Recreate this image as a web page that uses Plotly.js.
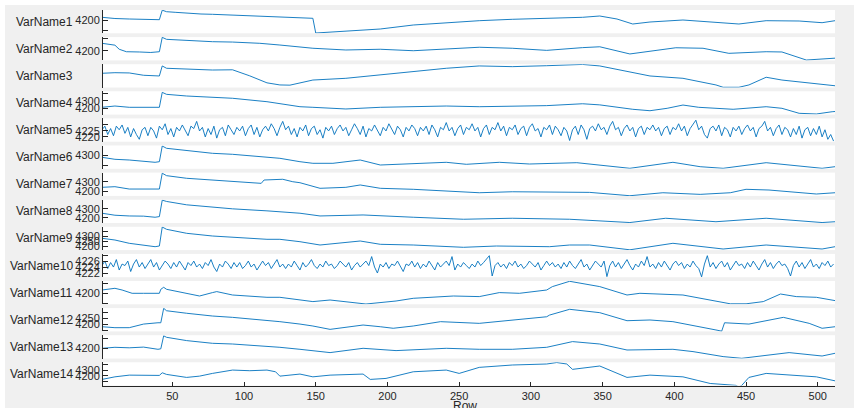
<!DOCTYPE html>
<html>
<head>
<meta charset="utf-8">
<script src="https://cdn.plot.ly/plotly-3.0.1.min.js"></script>
<style>
  html, body { margin: 0; padding: 0; background: #ffffff; width: 854px; height: 408px; overflow: hidden; }
  #chart { position: absolute; left: 5px; top: 5px; width: 849px; height: 403px; }
</style>
</head>
<body>
<div id="chart"></div>
<script>
// ---------------- data ----------------
const varNames = ['VarName1','VarName2','VarName3','VarName4','VarName5','VarName6','VarName7',
                  'VarName8','VarName9','VarName10','VarName11','VarName12','VarName13','VarName14'];

const rows1 = [1,10,20,30,38,41,43,46,52,60,70,78,92,104,116,125,139,146,148,150,160,171,195,218,241,264,287,311,336,348,360,371,383,406,430,445,464,487,503,512];
const vals1 = [4227,4215,4210,4207,4200,4203,4298,4283,4277,4267,4260,4257,4250,4240,4233,4233,4220,4217,4217,4070,4080,4090,4110,4150,4173,4193,4207,4217,4227,4240,4210,4160,4180,4200,4173,4160,4193,4190,4173,4193];

const rows2 = [1,6,10,13,18,27,35,41,43,46,60,78,92,111,125,139,148,171,195,218,241,264,287,311,336,348,369,401,420,438,464,475,492,500,510,512];
const vals2 = [4260,4254,4245,4212,4192,4190,4186,4192,4308,4292,4281,4273,4270,4260,4246,4233,4220,4206,4212,4200,4216,4228,4220,4203,4225,4232,4174,4224,4220,4179,4192,4190,4125,4130,4136,4140];

const rows3 = [1,10,20,30,41,43,46,60,78,92,104,116,125,132,139,148,171,195,218,241,264,287,311,336,348,367,383,406,429,434,445,452,464,475,499,510,512];
const vals3 = [4222,4227,4225,4205,4199,4285,4265,4256,4250,4252,4200,4140,4122,4120,4140,4164,4179,4207,4236,4265,4285,4279,4287,4298,4285,4236,4199,4179,4122,4102,4102,4122,4188,4164,4130,4113,4115];

const rows4 = [1,10,20,35,41,43,46,60,78,92,116,125,139,148,171,195,218,241,264,287,311,336,348,371,383,395,406,417,441,464,475,487,499,510,512];
const vals4 = [4213,4230,4213,4210,4213,4410,4384,4362,4345,4332,4287,4260,4221,4213,4191,4213,4221,4230,4221,4230,4235,4260,4245,4187,4168,4200,4243,4213,4187,4221,4200,4134,4125,4155,4158];

const vals5 = [
  4226,4229,4222,4227,4221,4229,4226,4230,4223,4228,4220,4227,4222,4218,4226,4228,
  4221,4228,4225,4219,4229,4226,4231,4222,4227,4220,4228,4225,4230,4226,4221,4229,
  4227,4233,4225,4228,4220,4227,4222,4229,4219,4226,4228,4221,4230,4226,4222,4228,
  4225,4229,4221,4227,4230,4222,4228,4220,4226,4229,4225,4231,4227,4221,4228,4233,
  4226,4229,4222,4227,4220,4228,4225,4230,4221,4227,4229,4222,4226,4219,4228,4225,
  4229,4222,4227,4230,4225,4228,4221,4226,4231,4227,4222,4229,4220,4227,4225,4230,
  4226,4221,4228,4225,4231,4227,4222,4229,4226,4220,4228,4225,4230,4227,4221,4228,
  4225,4229,4222,4230,4226,4220,4228,4226,4232,4225,4228,4221,4227,4230,4222,4228,
  4226,4231,4225,4228,4220,4227,4230,4222,4228,4226,4232,4225,4229,4221,4228,4226,
  4230,4222,4227,4229,4221,4228,4231,4225,4227,4220,4228,4226,4230,4222,4229,4226,
  4221,4228,4225,4217,4226,4229,4222,4230,4226,4218,4227,4229,4225,4231,4226,4228,
  4222,4229,4233,4226,4228,4221,4227,4230,4225,4228,4220,4227,4229,4222,4228,4226,
  4230,4225,4228,4221,4227,4229,4222,4228,4226,4231,4225,4229,4221,4227,4230,4234,
  4226,4229,4222,4219,4227,4229,4225,4230,4221,4228,4226,4220,4228,4225,4229,4222,
  4227,4230,4225,4228,4220,4227,4229,4233,4225,4228,4221,4227,4230,4222,4228,4226,
  4220,4227,4222,4229,4219,4226,4228,4221,4227,4222,4229,4220,4226,4218,4222,4216.5
];

const rows6 = [1,10,20,30,38,41,43,46,60,78,92,116,125,139,148,162,181,195,218,241,255,278,299,313,332,369,399,418,434,464,503,512];
const vals6 = [4277,4257,4250,4235,4227,4233,4390,4367,4343,4317,4307,4283,4267,4233,4217,4217,4250,4200,4217,4227,4207,4227,4210,4217,4223,4167,4227,4183,4167,4223,4167,4183];

const rows7 = [1,10,20,30,41,43,46,60,78,92,104,112,114,127,134,139,153,171,181,195,218,241,264,287,327,341,369,392,418,439,450,466,499,512];
const vals7 = [4241,4248,4222,4225,4222,4397,4370,4341,4322,4303,4292,4285,4322,4330,4303,4292,4230,4241,4267,4230,4219,4200,4181,4192,4185,4185,4148,4181,4163,4181,4219,4211,4167,4181];

const rows8 = [1,10,20,30,38,41,43,46,60,78,92,116,125,139,153,183,218,253,287,313,327,369,394,429,452,464,503,512];
const vals8 = [4252,4230,4222,4220,4208,4215,4395,4381,4344,4319,4300,4278,4270,4252,4222,4233,4208,4186,4197,4186,4186,4150,4197,4159,4186,4197,4150,4159];

const rows9 = [1,10,20,30,38,41,43,46,60,78,92,116,125,139,153,181,195,218,253,276,313,327,341,369,399,418,434,464,503,512];
const vals9 = [4277,4260,4227,4210,4193,4200,4390,4367,4327,4300,4287,4267,4267,4243,4210,4250,4217,4210,4187,4200,4193,4210,4210,4162,4227,4193,4170,4210,4170,4193];

const vals10 = [
  4224.5,4226.0,4223.5,4225.5,4224.0,4226.5,4223.0,4225.0,4224.5,4226.0,4222.5,4225.0,4226.5,4224.0,4225.5,4223.5,
  4225.0,4226.5,4224.0,4225.5,4223.0,4224.5,4226.0,4225.0,4223.5,4225.5,4224.0,4226.0,4224.5,4223.0,4225.5,4224.5,
  4226.0,4224.0,4225.0,4223.5,4225.5,4224.5,4226.5,4224.0,4222.5,4225.0,4224.0,4226.0,4225.0,4223.5,4225.5,4224.0,
  4225.5,4223.5,4224.5,4226.0,4224.0,4225.0,4223.0,4224.5,4226.0,4224.5,4225.5,4223.5,4225.0,4226.5,4224.0,4225.0,
  4223.5,4225.0,4224.0,4226.0,4224.5,4223.0,4225.5,4224.0,4225.0,4226.5,4224.5,4223.5,4225.0,4224.0,4226.0,4224.5,
  4225.0,4223.5,4224.5,4226.0,4225.0,4224.0,4225.5,4223.0,4224.5,4225.5,4224.0,4225.0,4226.0,4224.5,4227.5,4224.0,
  4222.0,4225.0,4224.0,4225.5,4223.5,4225.0,4224.5,4226.0,4224.0,4222.5,4225.0,4224.5,4226.0,4224.0,4225.5,4223.5,
  4225.0,4224.0,4226.0,4224.5,4223.0,4225.5,4224.0,4225.0,4226.0,4224.5,4227.5,4223.0,4225.0,4224.0,4225.5,4224.5,
  4223.5,4225.0,4224.0,4226.0,4224.5,4225.5,4226.5,4227.8,4221.0,4224.5,4225.5,4224.0,4225.0,4223.5,4225.5,4224.5,
  4226.0,4224.0,4225.0,4223.5,4224.5,4226.0,4225.0,4224.0,4225.5,4223.0,4224.5,4226.0,4224.5,4225.5,4224.0,4225.0,
  4223.5,4225.5,4224.0,4226.0,4224.5,4223.5,4225.0,4226.5,4224.0,4225.0,4223.0,4224.5,4226.0,4225.0,4224.0,4226.0,
  4220.8,4224.5,4226.0,4224.0,4225.5,4223.5,4225.0,4226.5,4224.5,4223.0,4225.0,4224.0,4226.0,4224.5,4227.5,4224.0,
  4225.0,4223.5,4225.5,4224.0,4226.0,4224.5,4223.0,4225.0,4226.0,4224.5,4225.5,4223.5,4225.0,4224.0,4226.0,4224.5,
  4223.5,4220.7,4225.0,4227.8,4224.0,4225.5,4223.5,4225.0,4226.0,4224.0,4225.5,4223.0,4224.5,4226.0,4224.5,4225.0,
  4223.5,4225.5,4224.0,4226.0,4224.5,4223.0,4225.0,4226.5,4224.0,4225.5,4223.5,4225.0,4226.0,4224.5,4225.0,4223.5,
  4221.0,4224.5,4226.0,4224.0,4225.5,4223.5,4225.0,4226.5,4224.0,4225.0,4223.5,4225.5,4224.5,4226.0,4224.0,4225.0
];

const rows11 = [1,10,15,22,30,41,42,44,46,60,69,78,81,92,116,125,139,148,160,185,206,218,246,264,278,292,311,315,327,348,367,376,406,439,450,462,474,485,499,512];
const vals11 = [4233,4250,4233,4200,4200,4200,4240,4260,4240,4200,4173,4207,4217,4183,4160,4160,4133,4117,4133,4093,4123,4150,4173,4167,4207,4200,4233,4267,4320,4267,4183,4200,4183,4095,4095,4117,4193,4167,4160,4127];

const rows12 = [1,10,20,25,30,40,42,44,46,60,78,92,116,125,139,148,160,183,195,204,218,237,264,287,311,313,327,348,367,383,399,429,433,435,452,476,494,503,512];
const vals12 = [4180,4172,4172,4186,4202,4213,4213,4333,4313,4292,4269,4258,4236,4222,4202,4186,4158,4194,4180,4167,4186,4222,4208,4236,4263,4277,4325,4297,4230,4236,4222,4153,4143,4213,4202,4258,4208,4167,4180];

const rows13 = [1,10,20,30,40,42,44,46,60,78,92,116,125,139,160,183,206,241,264,287,311,329,348,367,399,413,434,447,464,480,503,512];
const vals13 = [4200,4210,4205,4212,4190,4195,4325,4310,4277,4250,4243,4223,4210,4190,4157,4200,4177,4200,4190,4190,4210,4267,4243,4183,4190,4167,4117,4100,4133,4157,4123,4150];

const rows14 = [1,10,20,30,41,43,46,60,69,78,92,104,116,122,125,139,148,160,183,188,199,218,241,250,264,287,311,318,325,329,348,367,383,406,425,443,445,447,452,464,483,499,512];
const vals14 = [4141,4185,4214,4209,4209,4254,4226,4175,4197,4243,4300,4289,4300,4271,4197,4232,4185,4214,4232,4141,4158,4271,4300,4243,4346,4386,4403,4428,4403,4312,4369,4175,4214,4185,4072,4040,4010,4040,4175,4243,4214,4185,4117];

// tick values / labels per panel
const tickVals = [
  [4100,4200,4300], [4200,4300], [4100,4300], [4200,4300,4400], [4220,4225,4230,4235],
  [4200,4300], [4200,4300,4400], [4200,4300,4400], [4200,4250,4300,4350], [4222,4224,4226,4228],
  [4100,4200,4300], [4150,4200,4250,4300], [4100,4200,4300], [4100,4200,4300,4400]
];
const tickText = [
  ['','4200',''], ['4200',''], ['',''], ['4200','4300',''], ['4220','4225','',''],
  ['','4300'], ['4200','4300',''], ['4200','4300',''], ['4200','4250','4300',''], ['4222','4224','4226',''],
  ['','4200',''], ['','4200','4250',''], ['','4200',''], ['','4200','4300','']
];
const xTicks = [50,100,150,200,250,300,350,400,450,500];

// ---------------- chart ----------------
const noiseRows = vals5.map((_, i) => 1 + 2 * i);
const seriesX = [rows1, rows2, rows3, rows4, noiseRows, rows6, rows7, rows8, rows9, noiseRows, rows11, rows12, rows13, rows14];
const seriesY = [vals1, vals2, vals3, vals4, vals5, vals6, vals7, vals8, vals9, vals10, vals11, vals12, vals13, vals14];
const yRanges = [
  [4067,4300],[4122,4310],[4100,4300],[4117,4424],[4216,4235.5],[4162,4395],[4146,4404],
  [4145,4400],[4159,4392],[4220.6,4228.4],[4090,4323],[4141,4335],[4098,4331],[4036,4432]
];

const FONT = 'Liberation Sans, Arial, Helvetica, sans-serif';
const TXT = '#262626';
const H = 376, PERIOD = 27.1, PH = 23.3;
const PLOT_W = 732;

const traces = [];
const layout = {
  width: 849, height: 403,
  margin: { l: 98, r: 19, t: 5, b: 22, pad: 0 },
  paper_bgcolor: '#f0f0f0',
  plot_bgcolor: '#ffffff',
  showlegend: false,
  font: { family: FONT, size: 11, color: TXT },
  xaxis: {
    anchor: 'y14', range: [1.7, 512], tickvals: xTicks, ticktext: xTicks.map(String),
    ticks: 'inside', ticklen: 4, tickcolor: TXT, tickwidth: 1,
    showline: true, linecolor: TXT, linewidth: 1, showgrid: false, zeroline: false,
    tickfont: { family: FONT, size: 11, color: TXT }, fixedrange: true
  },
  annotations: [],
  hovermode: false
};

for (let i = 0; i < 14; i++) {
  const ax = i === 0 ? 'y' : 'y' + (i + 1);
  const key = i === 0 ? 'yaxis' : 'yaxis' + (i + 1);
  const top = PERIOD * i, bot = top + PH;
  const dom = [1 - bot / H, 1 - top / H];
  layout[key] = {
    domain: dom, anchor: 'x', range: yRanges[i],
    tickvals: tickVals[i], ticktext: tickText[i],
    ticks: 'inside', ticklen: 5, tickcolor: TXT, tickwidth: 1,
    showline: true, linecolor: TXT, linewidth: 1, showgrid: false, zeroline: false,
    tickfont: { family: FONT, size: 11, color: TXT }, fixedrange: true
  };
  traces.push({
    type: 'scatter', mode: 'lines', x: seriesX[i], y: seriesY[i],
    xaxis: 'x', yaxis: ax,
    line: { color: '#0072BD', width: 0.9 }
  });
  layout.annotations.push({
    text: varNames[i], xref: 'paper', yref: 'paper',
    x: (75 - 103) / PLOT_W, xanchor: 'right',
    y: (dom[0] + dom[1]) / 2, yanchor: 'middle',
    showarrow: false, font: { family: FONT, size: 12, color: TXT }
  });
}
layout.annotations.push({
  text: 'Row', xref: 'paper', yref: 'paper',
  x: (465 - 103) / PLOT_W, xanchor: 'center',
  y: -(406 - 386) / H, yanchor: 'middle',
  showarrow: false, font: { family: FONT, size: 12, color: TXT }
});

Plotly.newPlot('chart', traces, layout, { staticPlot: true, displayModeBar: false });
</script>
</body>
</html>
